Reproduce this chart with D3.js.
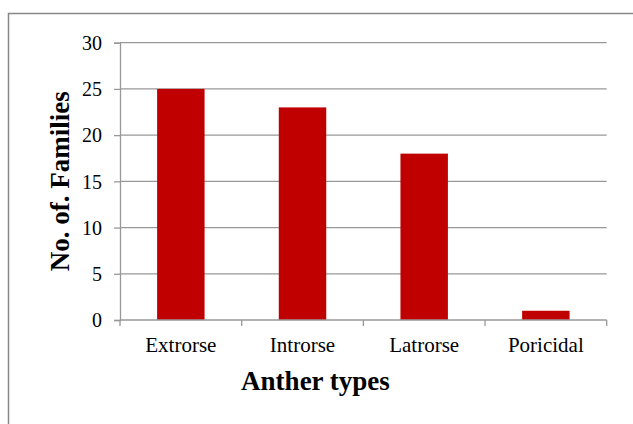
<!DOCTYPE html>
<html>
<head>
<meta charset="utf-8">
<script src="https://cdn.jsdelivr.net/npm/d3@7"></script>
<style>
  html, body { margin: 0; padding: 0; background: #fff; }
  svg { display: block; }
  text { font-family: "Liberation Serif", "Times New Roman", serif; fill: #000; }
</style>
</head>
<body>
<svg id="chart" width="633" height="424"></svg>
<script>
const categories = ["Extrorse", "Introrse", "Latrorse", "Poricidal"];
const values = [25, 23, 18, 1];
const yTicks = [0, 5, 10, 15, 20, 25, 30];
const xTitle = "Anther types";
const yTitle = "No. of. Families";

const svg = d3.select("#chart");
const W = 633, H = 424;
const plot = { left: 120, right: 606.7, top: 42.7, bottom: 320 };

// outer chart border
svg.append("rect")
  .attr("x", 8.5).attr("y", 13.5)
  .attr("width", W + 10).attr("height", H)
  .attr("fill", "none").attr("stroke", "#878787").attr("stroke-width", 1.5);

const x = d3.scaleBand().domain(categories).range([plot.left, plot.right]).padding(0);
const y = d3.scaleLinear().domain([0, 30]).range([plot.bottom, plot.top]);

// gridlines
svg.append("g").selectAll("line")
  .data(yTicks.filter(t => t > 0))
  .join("line")
  .attr("x1", plot.left).attr("x2", plot.right)
  .attr("y1", d => y(d)).attr("y2", d => y(d))
  .attr("stroke", "#989898").attr("stroke-width", 1.3);

// bars
const barFrac = 0.39;
svg.append("g").selectAll("rect")
  .data(categories.map((c, i) => ({ c, v: values[i] })))
  .join("rect")
  .attr("x", d => x(d.c) + x.bandwidth() * (1 - barFrac) / 2)
  .attr("width", x.bandwidth() * barFrac)
  .attr("y", d => y(d.v))
  .attr("height", d => y(0) - y(d.v))
  .attr("fill", "#C00000");

// y axis
const yAxis = svg.append("g")
  .attr("transform", `translate(${plot.left},0)`)
  .call(d3.axisLeft(y).tickValues(yTicks).tickSize(6).tickPadding(12).tickFormat(d3.format("d")));
yAxis.select(".domain").attr("stroke", "#989898").attr("stroke-width", 1.3);
yAxis.selectAll(".tick line").attr("stroke", "#989898").attr("stroke-width", 1.3);
yAxis.selectAll(".tick text")
  .style("font-family", "'Liberation Serif', 'Times New Roman', serif")
  .style("font-size", "20px").attr("fill", "#000").attr("dy", "0.34em");

// x axis with boundary ticks
const xg = svg.append("g").attr("transform", `translate(0,${plot.bottom})`);
xg.append("line").attr("x1", plot.left).attr("x2", plot.right)
  .attr("y1", 0).attr("y2", 0).attr("stroke", "#989898").attr("stroke-width", 1.3);
const bounds = categories.map(c => x(c)).concat([x(categories[categories.length - 1]) + x.bandwidth()]);
xg.selectAll("line.tk").data(bounds).join("line").attr("class", "tk")
  .attr("x1", d => d).attr("x2", d => d).attr("y1", 0).attr("y2", 6)
  .attr("stroke", "#989898").attr("stroke-width", 1.3);
xg.selectAll("text.lab").data(categories).join("text").attr("class", "lab")
  .attr("x", d => x(d) + x.bandwidth() / 2)
  .attr("y", 31.7)
  .attr("text-anchor", "middle")
  .style("font-size", "21px")
  .text(d => d);

// axis titles
svg.append("text")
  .attr("x", 315.5).attr("y", 389.5)
  .attr("text-anchor", "middle")
  .style("font-size", "27px").style("font-weight", "bold")
  .text(xTitle);

svg.append("text")
  .attr("transform", `translate(68.5,${(plot.top + plot.bottom) / 2}) rotate(-90)`)
  .attr("text-anchor", "middle")
  .style("font-size", "27px").style("font-weight", "bold")
  .text(yTitle);
</script>
</body>
</html>
